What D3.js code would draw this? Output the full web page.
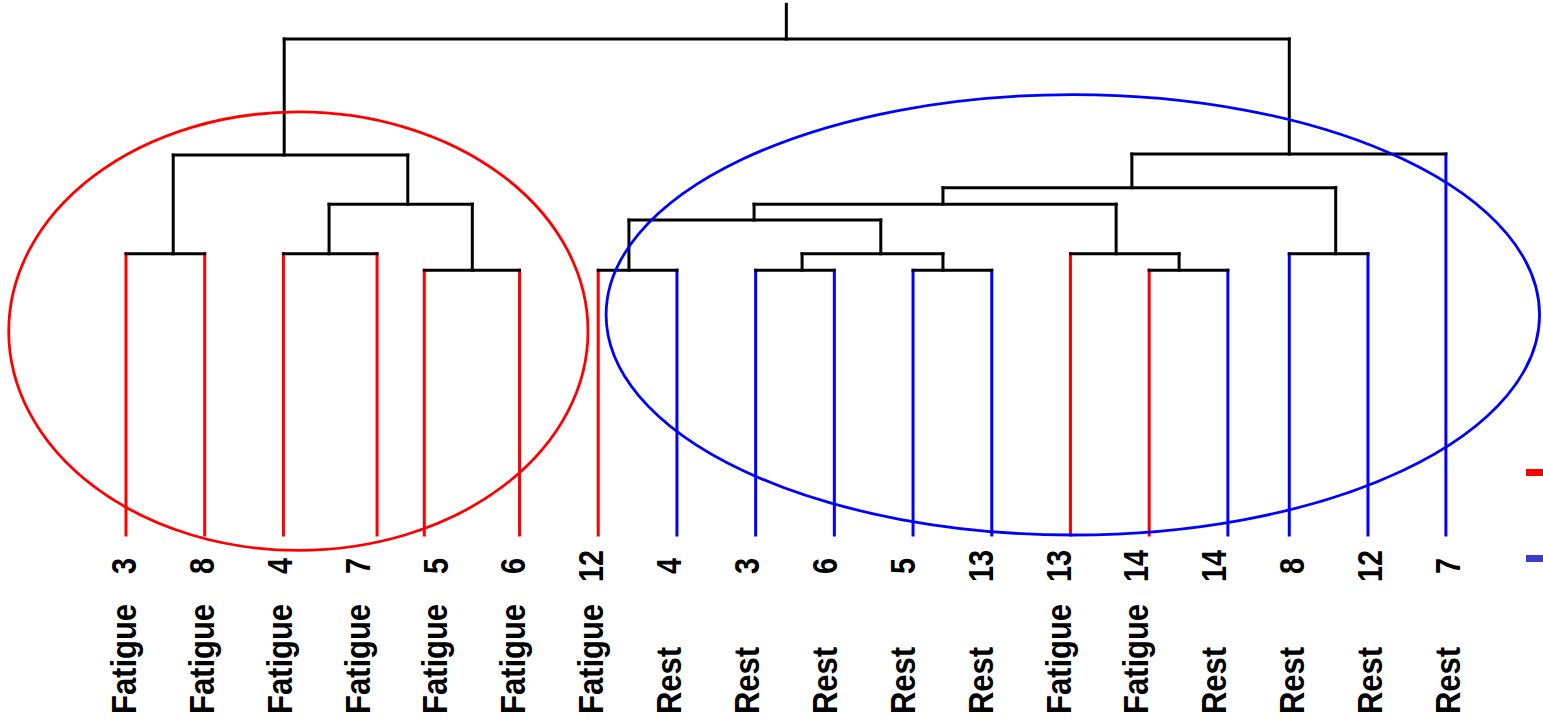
<!DOCTYPE html>
<html>
<head>
<meta charset="utf-8">
<script src="https://cdn.jsdelivr.net/npm/d3@7"></script>
<style>
	body { margin: 0; background: #fff; }
	text { font-family: "Liberation Sans", Arial, sans-serif; font-weight: bold; }
</style>
</head>
<body>
<div id="chart"></div>
<script>
// leaf labels (left to right)
var groups = ["Fatigue", "Fatigue", "Fatigue", "Fatigue", "Fatigue", "Fatigue", "Fatigue",
	"Rest", "Rest", "Rest", "Rest", "Rest", "Fatigue", "Fatigue", "Rest", "Rest", "Rest", "Rest"];
var subjects = [3, 8, 4, 7, 5, 6, 12, 4, 3, 6, 5, 13, 13, 14, 14, 8, 12, 7];

// leaf positions along the axis (leaf units)
var leafPos = [0, 1, 2, 3.19, 3.79, 5, 6, 7, 8, 9, 10, 11, 12, 13, 14, 14.78, 15.78, 16.77];

// merges: [left node, right node, height, position]; node ids 0-17 are leaves, 18+ are merges
var merges = [
	[0, 1, 5.67, 0.60],
	[2, 3, 5.67, 2.58],
	[4, 5, 5.34, 4.40],
	[19, 20, 6.67, 3.58],
	[18, 21, 7.66, 2.01],
	[6, 7, 5.34, 6.39],
	[8, 9, 5.34, 8.59],
	[10, 11, 5.34, 10.38],
	[24, 25, 5.67, 9.59],
	[23, 26, 6.35, 7.98],
	[13, 14, 5.34, 13.38],
	[12, 28, 5.67, 12.58],
	[27, 29, 6.67, 10.38],
	[15, 16, 5.67, 15.37],
	[30, 31, 7.0, 12.78],
	[32, 17, 7.68, 14.78],
	[22, 33, 10, 8.39]
];
var rootStem = 10.7;

// cluster rings: centre and radii in leaf units / height units
var rings = [
	{ name: "Fatigue", cx: 2.19, cy: 4.11, rx: 3.68, ry: 4.42 },
	{ name: "Rest", cx: 12.03, cy: 4.44, rx: 5.93, ry: 4.44 }
];

var legendNames = ["Fatigue", "Rest"];

function renderDendrogram() {
	var W = 1543, H = 721;

	var svg = d3.select("#chart")
		.append("svg")
		.attr("width", W)
		.attr("height", H);

	var x = d3.scaleLinear().domain([0, 17]).range([126, 1464]);
	var y = d3.scaleLinear().domain([0, 10]).range([535, 39]);
	var labelX = d3.scalePoint().domain(d3.range(subjects.length)).range([123, 1447]);

	var color = d3.scaleOrdinal()
		.domain(["Fatigue", "Rest"])
		.range(["#ff0000", "#0000ff"]);

	// node positions / heights
	var nodes = leafPos.map(function (p, i) {
		return { pos: p, h: 0, leaf: true, group: groups[i] };
	});
	merges.forEach(function (m) {
		nodes.push({ pos: m[3], h: m[2], leaf: false, left: m[0], right: m[1] });
	});

	var segs = [];
	nodes.forEach(function (n) {
		if (n.leaf) return;
		[n.left, n.right].forEach(function (c) {
			var ch = nodes[c];
			segs.push({ x1: ch.pos, y1: ch.h, x2: ch.pos, y2: n.h, stroke: ch.leaf ? color(ch.group) : "#000" });
		});
		segs.push({ x1: nodes[n.left].pos, y1: n.h, x2: nodes[n.right].pos, y2: n.h, stroke: "#000" });
	});
	var root = nodes[nodes.length - 1];
	segs.push({ x1: root.pos, y1: root.h, x2: root.pos, y2: rootStem, stroke: "#000" });

	// coloured leaves first, black links on top
	segs.sort(function (a, b) { return (a.stroke === "#000") - (b.stroke === "#000"); });

	svg.append("g")
		.selectAll("line")
		.data(segs)
		.enter()
		.append("line")
		.attr("x1", function (d) { return x(d.x1); })
		.attr("x2", function (d) { return x(d.x2); })
		.attr("y1", function (d) { return y(d.y1); })
		.attr("y2", function (d) { return y(d.y2); })
		.attr("stroke", function (d) { return d.stroke; })
		.attr("stroke-width", 3)
		.attr("stroke-linecap", "square");

	// cluster ellipses
	svg.append("g")
		.selectAll("ellipse")
		.data(rings)
		.enter()
		.append("ellipse")
		.attr("cx", function (d) { return x(d.cx); })
		.attr("cy", function (d) { return y(d.cy); })
		.attr("rx", function (d) { return x(d.rx) - x(0); })
		.attr("ry", function (d) { return y(0) - y(d.ry); })
		.attr("fill", "none")
		.attr("stroke", function (d) { return color(d.name); })
		.attr("stroke-width", 2.8);

	// leaf labels (rotated)
	var lab = svg.append("g")
		.selectAll("g")
		.data(subjects)
		.enter()
		.append("g")
		.attr("transform", function (d, i) { return "translate(" + labelX(i) + ",0)"; });

	lab.append("text")
		.attr("transform", "translate(0,566) rotate(-90) scale(0.8,1)")
		.attr("text-anchor", "middle")
		.attr("dy", "0.36em")
		.style("font-size", "36px")
		.text(function (d) { return d; });

	lab.append("text")
		.attr("transform", "translate(0,714) rotate(-90) scale(0.86,1)")
		.attr("text-anchor", "start")
		.attr("dy", "0.36em")
		.style("font-size", "36px")
		.text(function (d, i) { return groups[i]; });

	// legend (mostly off the right edge)
	svg.append("g")
		.selectAll("rect")
		.data(legendNames)
		.enter()
		.append("rect")
		.attr("x", 1526)
		.attr("y", function (d, i) { return 469 + i * 86; })
		.attr("width", 30)
		.attr("height", 7)
		.attr("fill", function (d) { return d === "Fatigue" ? "#ff0000" : "#3c3ccc"; });
}

renderDendrogram();
</script>
</body>
</html>
